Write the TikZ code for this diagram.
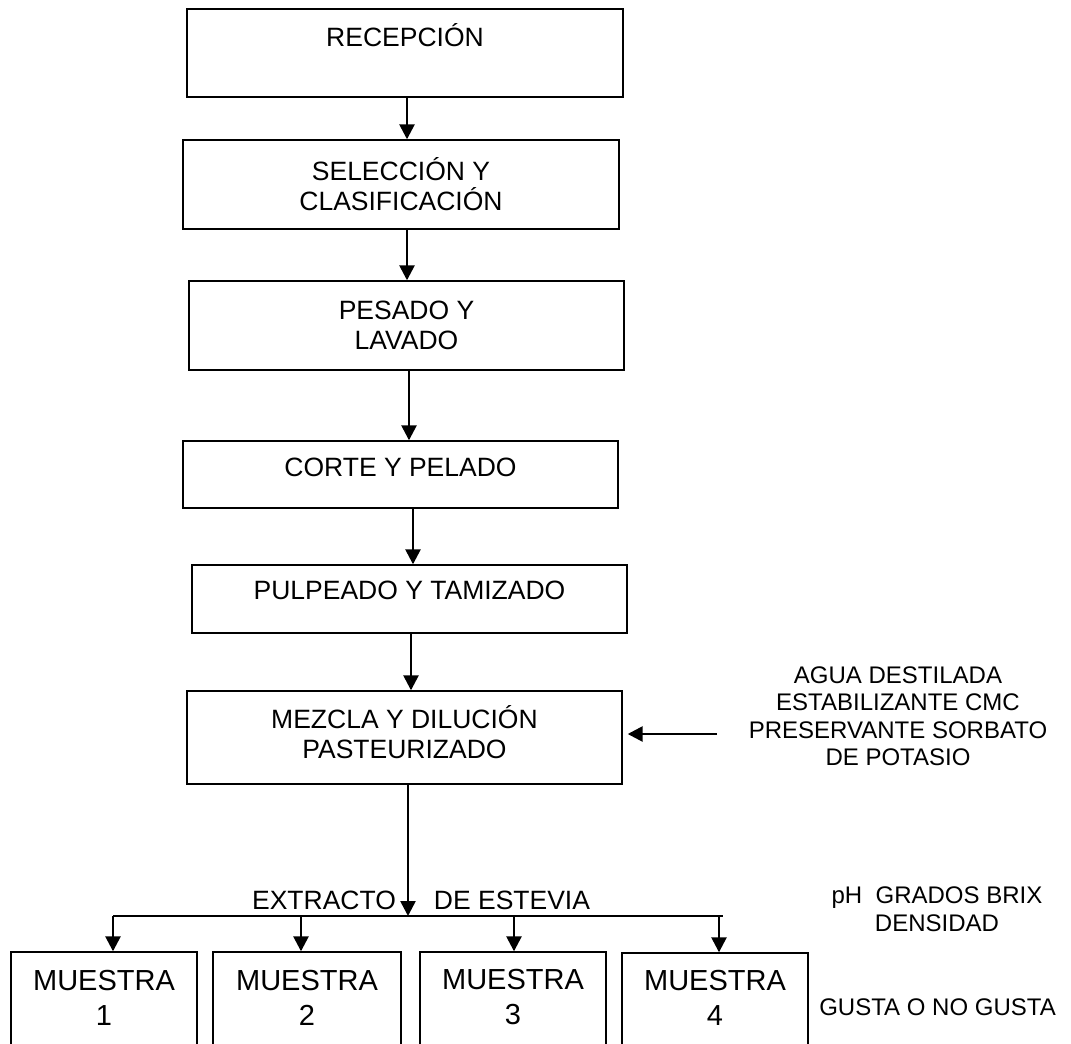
\documentclass[tikz,border=0pt]{standalone}
\usepackage{fontspec}
\setmainfont{Liberation Sans}
\usetikzlibrary{arrows.meta}
\begin{document}
\begin{tikzpicture}[x=1pt,y=-1pt,
  box/.style={draw=black, line width=1.4pt, rectangle, inner sep=0pt},
  txt/.style={inner sep=0pt, align=center, font=\fontsize{26.5}{30}\selectfont},
  side/.style={inner sep=0pt, align=center, font=\fontsize{24}{27.5}\selectfont},
  sample/.style={inner sep=0pt, align=center, font=\fontsize{29}{35}\selectfont},
  arr/.style={line width=2.6pt, -{Triangle[length=15pt,width=15pt]}},
  bar/.style={line width=2.6pt}]
\useasboundingbox (0,0) rectangle (1071,1044);

% process steps
\node[box, minimum width=436, minimum height=88] (rec) at (405,53) {};
\node[txt] (recT) at (405,35) {RECEPCIÓN};

\node[box, minimum width=436, minimum height=89] (sel) at (401,184.5) {};
\node[txt] (selT) at (401,184) {SELECCIÓN Y\\CLASIFICACIÓN};

\node[box, minimum width=435, minimum height=89] (pes) at (406.5,325.5) {};
\node[txt] (pesT) at (406.5,325) {PESADO Y\\LAVADO};

\node[box, minimum width=435, minimum height=67] (cor) at (400.5,474.5) {};
\node[txt] (corT) at (400.5,467) {CORTE Y PELADO};

\node[box, minimum width=435, minimum height=68] (pul) at (409.5,599) {};
\node[txt] (pulT) at (409.5,590) {PULPEADO Y TAMIZADO};

\node[box, minimum width=435, minimum height=93] (mez) at (404.5,737.5) {};
\node[txt] (mezT) at (404.5,732.5) {MEZCLA Y DILUCIÓN\\PASTEURIZADO};

% connectors between steps
\draw[arr] ([xshift=2pt]rec.south) -- ([xshift=2pt]rec.south |- sel.north);
\draw[arr] ([xshift=6pt]sel.south) -- ([xshift=6pt]sel.south |- pes.north);
\draw[arr] ([xshift=2.5pt]pes.south) -- ([xshift=2.5pt]pes.south |- cor.north);
\draw[arr] ([xshift=12.5pt]cor.south) -- ([xshift=12.5pt]cor.south |- pul.north);
\draw[arr] ([xshift=1.5pt]pul.south) -- ([xshift=1.5pt]pul.south |- mez.north);

% added ingredients
\node[side] (ing) at (898,716) {AGUA DESTILADA\\ESTABILIZANTE CMC\\PRESERVANTE SORBATO\\DE POTASIO};
\coordinate (ingS) at (717,734);
\draw[arr] (ingS) -- ([xshift=5pt]mez.east |- ingS);

% split into samples
\coordinate (barL) at (113,916);
\coordinate (barR) at (723,916);
\draw[arr] ([xshift=3.5pt]mez.south) -- ([xshift=3.5pt]mez.south |- barL);
\draw[bar] (barL) -- (barR);
\node[txt] (ext) at (324,900) {EXTRACTO};
\node[txt] (est) at (512,900) {DE ESTEVIA};

\node[box, minimum width=186, minimum height=100] (m1) at (104,1002) {};
\node[box, minimum width=188, minimum height=100] (m2) at (307,1002) {};
\node[box, minimum width=186, minimum height=100] (m3) at (513,1002) {};
\node[box, minimum width=186, minimum height=100] (m4) at (715,1003) {};
\node[sample] (m1T) at (104,997.5) {MUESTRA\\1};
\node[sample] (m2T) at (307,997.5) {MUESTRA\\2};
\node[sample] (m3T) at (513,997.5) {MUESTRA\\3};
\node[sample] (m4T) at (715,997.5) {MUESTRA\\4};

\coordinate (d1) at (113,916);
\coordinate (d2) at (301,916);
\coordinate (d3) at (514,916);
\coordinate (d4) at (719,916);
\draw[arr] (d1) -- (d1 |- m1.north);
\draw[arr] (d2) -- (d2 |- m2.north);
\draw[arr] (d3) -- (d3 |- m3.north);
\draw[arr] (d4) -- (d4 |- m4.north);

% measurements
\node[side] (meas) at (937,909) {pH\ \ GRADOS BRIX\\DENSIDAD};
\node[side] (eval) at (937.5,1007) {GUSTA O NO GUSTA};
\end{tikzpicture}
\end{document}
